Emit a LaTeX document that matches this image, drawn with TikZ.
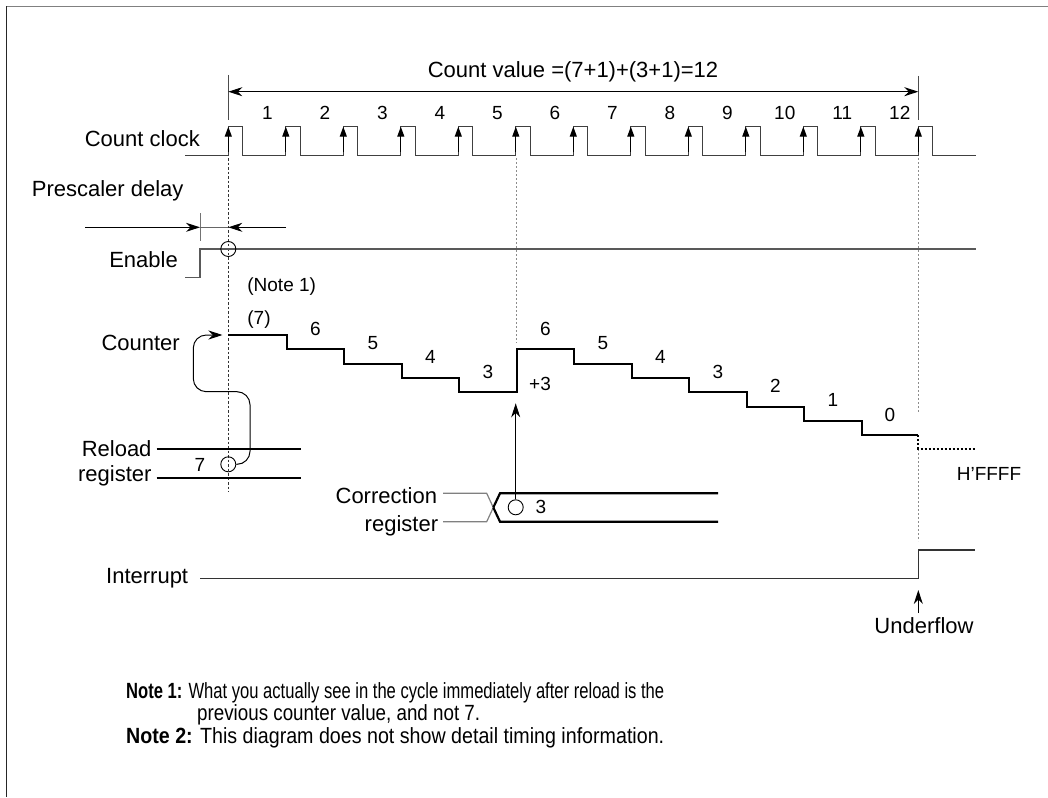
\documentclass[tikz,border=0pt]{standalone}
\usepackage{fontspec}
\setmainfont{Liberation Sans}
\usetikzlibrary{arrows.meta}
\begin{document}
\begin{tikzpicture}[x=1pt,y=-1pt,
  lab/.style={font=\fontsize{22}{26}\selectfont, inner sep=0pt},
  val/.style={font=\fontsize{19}{23}\selectfont, inner sep=0pt},
  note/.style={font=\fontsize{22}{26}\selectfont, inner sep=0pt, anchor=base west},
  thinsig/.style={line width=1.3pt, draw=black!75},
  thicksig/.style={line width=2.2pt, draw=black},
  guide/.style={line width=0.9pt, draw=black!80, dash pattern=on 2.5pt off 2pt},
  lguide/.style={line width=0.9pt, draw=black!45, dash pattern=on 2pt off 2pt},
  dimtip/.style={line width=1pt, draw=black},
  clk/.style={-{Triangle[length=10pt,width=7pt]}, line width=1.3pt, draw=black},
  ring/.style={circle, draw, line width=0.9pt, minimum size=15pt, inner sep=0pt},
  >={Stealth[length=14pt,width=9pt,inset=4.5pt]}
]
\useasboundingbox (0,0) rectangle (1048,797);
% frame
\draw[line width=1.5pt, black!50] (6.5,6.5) -- (1048,6.5);
\draw[line width=1.5pt, black!85] (6.5,6.5) -- (6.5,797);

% count value dimension
\node[lab, anchor=base] (cv) at (573,77.3) {Count value =(7+1)+(3+1)=12};
\draw[line width=0.9pt, black!70] (228.3,75) -- (228.3,120);
\draw[line width=0.9pt, black!70] (918.3,76) -- (918.3,120);
\coordinate (cvl) at (228.3,91.7);
\coordinate (cvr) at (918.3,91.7);
\draw[dimtip,<->] (cvl) -- (cvr);

% count clock
\node[lab, anchor=base east] (lclk) at (200,146.5) {Count clock};
\draw[thinsig] (185,155.7) foreach \k in {0,...,12} { -- ({228.3+57.5*\k},155.7) -- ++(0,-29) -- ++(14.4,0) -- ++(0,29) } -- (976,155.7);
\foreach \k in {0,...,12} \draw[clk] ({228.3+57.5*\k},152) -- ({228.3+57.5*\k},126.7);
\foreach \k in {1,...,12} \node[val, anchor=base] at ({228.3+57.5*(\k-1)+39},120) {\k};

% guides
\draw[guide] (228.3,158) -- (228.3,492);
\draw[lguide] (516,158) -- (516,343);
\draw[lguide] (918.3,158) -- (918.3,413);
\draw[lguide] (918.3,449) -- (918.3,541);

% prescaler delay
\node[lab, anchor=base west] (lpre) at (31.7,196) {Prescaler delay};
\draw[line width=1pt, black!55] (200,213) -- (200,241);
\coordinate (pl) at (85,227.3);
\coordinate (pm) at (200,227.3);
\coordinate (pn) at (228.3,227.3);
\coordinate (pr) at (286,227.3);
\draw[dimtip,->] (pl) -- (pm);
\draw[line width=0.9pt, black!60] (pm) -- (pn);
\draw[dimtip,->] (pr) -- (pn);

% enable
\node[lab, anchor=base east] (len) at (178,267.7) {Enable};
\draw[thinsig, draw=black!65] (185,277.3) -- (200,277.3) -- (200,249) -- (976,249);
\node[ring] (en) at (228.3,249) {};

% counter
\node[lab, anchor=base east] (lcnt) at (180,350) {Counter};
\draw[thicksig] (228.3,335) -- (286.8,335) -- (286.8,349.3) -- (344.3,349.3) -- (344.3,363.7)
  -- (401.8,363.7) -- (401.8,378) -- (459.3,378) -- (459.3,392.3) -- (516.8,392.3)
  -- (516.8,349.3) -- (574.3,349.3) -- (574.3,363.7) -- (631.8,363.7) -- (631.8,378)
  -- (689.3,378) -- (689.3,392.3) -- (746.8,392.3) -- (746.8,406.7) -- (804.3,406.7)
  -- (804.3,421) -- (861.8,421) -- (861.8,435.3) -- (918.3,435.3);
\draw[line width=2pt, dash pattern=on 2pt off 2pt] (918.3,435.3) -- (918.3,449) -- (975,449);
\node[val, anchor=base] at (281.7,291.7) {(Note 1)};
\node[val, anchor=base] at (259,324) {(7)};
\node[val, anchor=base] at (315.5,335) {6};
\node[val, anchor=base] at (373,349.3) {5};
\node[val, anchor=base] at (430.5,363.7) {4};
\node[val, anchor=base] at (488,378) {3};
\node[val, anchor=base] at (545.5,335) {6};
\node[val, anchor=base] at (603,349.3) {5};
\node[val, anchor=base] at (660.5,363.7) {4};
\node[val, anchor=base] at (718,378) {3};
\node[val, anchor=base] at (775.5,392.3) {2};
\node[val, anchor=base] at (833,406.7) {1};
\node[val, anchor=base] at (890,421) {0};
\node[val, anchor=base] at (540,390.7) {+3};
\node[val, anchor=base] at (989,480) {H’FFFF};

% reload register
\node[lab, anchor=base east] (lrl1) at (151.7,456) {Reload};
\node[lab, anchor=base east] (lrl2) at (151.7,481) {register};
\draw[thicksig] (156.7,449.3) -- (300.7,449.3);
\draw[thicksig] (156.7,478.3) -- (300.7,478.3);
\node[ring] (rl) at (228.3,464.3) {};
\node[val, anchor=base] at (200,471) {7};
\coordinate (ctip) at (222.5,335);
\draw[line width=1pt, rounded corners=13pt, ->] (rl.east) -- (250,464.3) -- (250,391.7) -- (193.3,391.7) -- (193.3,335) -- (ctip);

% correction register
\node[lab, anchor=base east] (lcr1) at (437.3,503) {Correction};
\node[lab, anchor=base east] (lcr2) at (438.3,531.5) {register};
\draw[line width=1.2pt, black!50] (443,493.3) -- (486.7,493.3) -- (493.3,507.5);
\draw[line width=1.2pt, black!50] (443,521.7) -- (486.7,521.7) -- (493.3,507.5);
\draw[thicksig] (493.3,507.5) -- (500,493.3) -- (718,493.3);
\draw[thicksig] (493.3,507.5) -- (500,521.7) -- (718,521.7);
\node[ring] (cr) at (515.7,507.3) {};
\node[val, anchor=base] at (541,513.3) {3};
\coordinate (ctip2) at (515.7,403.3);
\draw[line width=1pt, ->] (cr.north) -- (ctip2);

% interrupt
\node[lab, anchor=base east] (lint) at (188.3,583.3) {Interrupt};
\draw[thinsig, draw=black!80] (200,578.3) -- (918.3,578.3) -- (918.3,550) -- (975,550);
\node[lab, anchor=base] (uf) at (924,633.3) {Underflow};
\coordinate (uftip) at (918.3,590);
\draw[line width=1pt, ->] (918.3,613) -- (uftip);

% notes
\node[note] at (126,698.3) {\resizebox{538pt}{\height}{\textbf{Note 1:} What you actually see in the cycle immediately after reload is the}};
\node[note] at (197,720.7) {\resizebox{283pt}{\height}{previous counter value, and not 7.}};
\node[note] at (126,743.5) {\resizebox{538pt}{\height}{\textbf{Note 2:} This diagram does not show detail timing information.}};
\end{tikzpicture}
\end{document}
